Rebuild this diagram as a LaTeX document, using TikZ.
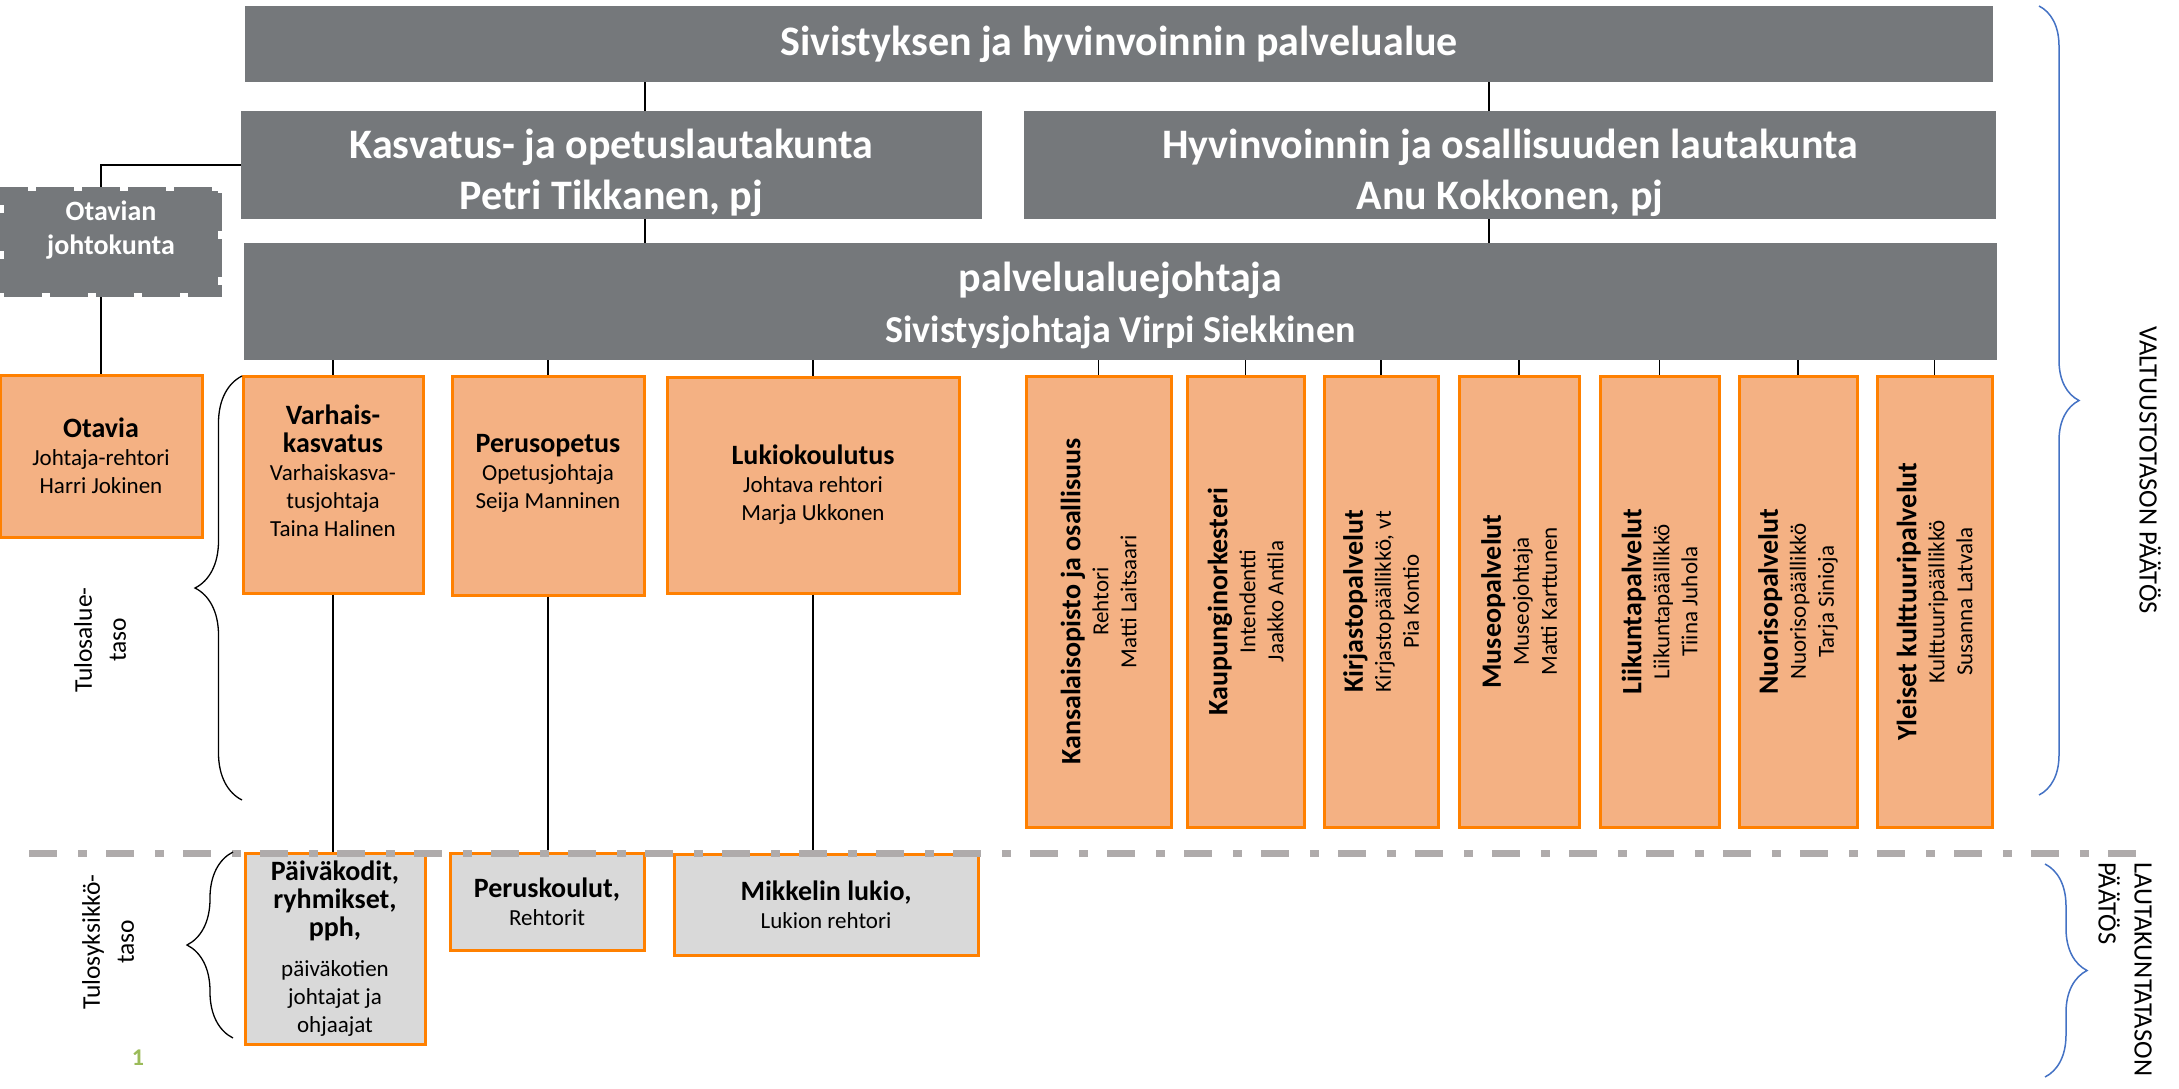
\documentclass[tikz,border=0pt]{standalone}
\usepackage{fontspec}
\setmainfont{Carlito}
\usetikzlibrary{positioning, decorations.pathreplacing}

\definecolor{boardgrey}{HTML}{75787B}
\definecolor{unitfill}{HTML}{F4B183}
\definecolor{unitline}{HTML}{FF8000}
\definecolor{schoolfill}{HTML}{D9D9D9}
\definecolor{levelgrey}{HTML}{AFABAB}
\definecolor{braceblue}{HTML}{4472C4}
\definecolor{pagegreen}{HTML}{9BBB59}

\newcommand{\fs}[2]{\fontsize{#1}{#2}\selectfont}
\newcommand{\unithead}[1]{{\fs{28}{31}\bfseries #1}}

\begin{document}
\begin{tikzpicture}[
        x=1pt, y=-1pt,
        board/.style={rectangle, fill=boardgrey, text=white, inner sep=0pt, align=center, font=\fs{42}{51}\bfseries},
        boardtext/.style={text=white, inner sep=0pt, align=center, font=\fs{42}{51}\bfseries},
        unit/.style={rectangle, draw=unitline, line width=3pt, fill=unitfill, inner sep=0pt, align=center, font=\fs{23}{28}},
        school/.style={unit, fill=schoolfill},
        sideways/.style={rotate=90, inner sep=0pt, align=center, font=\fs{23}{28}},
        link/.style={draw=black, line width=1.2pt},
        lbrace/.style={decorate, decoration={brace, amplitude=47pt}, line width=1.3pt},
        rbrace/.style={decorate, decoration={brace, amplitude=40pt}, draw=braceblue, line width=1.5pt},
        leveltext/.style={rotate=90, inner sep=0pt, align=center, font=\fs{25.5}{34}}
    ]
        \useasboundingbox (0,0) rectangle (2179,1088);

        % Palvelualue and lautakunnat
        \node[board, minimum width=1748, minimum height=76] (alue) at (1119, 44) {Sivistyksen ja hyvinvoinnin palvelualue};
        \node[board, minimum width=741, minimum height=108] (kasv) at (611.5, 165) {};
        \node[boardtext] (kasvteksti) at ([yshift=-8pt]kasv.center) {Kasvatus- ja opetuslautakunta\\Petri Tikkanen, pj};
        \node[board, minimum width=972, minimum height=108] (hyvi) at (1510, 165) {};
        \node[boardtext] (hyviteksti) at ([yshift=-8pt]hyvi.center) {Hyvinvoinnin ja osallisuuden lautakunta\\Anu Kokkonen, pj};
        \node[board, minimum width=1753, minimum height=117] (johtaja) at (1120.5, 301.5) {};
        \node[boardtext] (johtajateksti) at ([yshift=-4pt]johtaja.center) {palvelualuejohtaja\\{\fs{38}{51}\bfseries Sivistysjohtaja Virpi Siekkinen}};

        % Otavian johtokunta
        \node[board, draw=boardgrey, line width=8pt, dash pattern=on 38pt off 8pt, minimum width=214, minimum height=102] (otjk) at (111, 242) {};
        \node[text=white, align=center, font=\fs{28}{34}\bfseries] (otjkteksti) at ([yshift=12pt]otjk.center) {Otavian\\johtokunta};

        % Tulosalueet
        \node[unit, minimum width=202, minimum height=162] (otavia) at (101, 456) {\unithead{Otavia}\\Johtaja-rehtori\\Harri Jokinen};
        \node[unit, minimum width=180, minimum height=217] (varh) at (333, 484.5) {\unithead{Varhais-}\\\unithead{kasvatus}\\Varhaiskasva-\\tusjohtaja\\Taina Halinen\\\mbox{}};
        \node[unit, minimum width=192, minimum height=219] (peru) at (548, 485.5) {\unithead{Perusopetus}\\Opetusjohtaja\\Seija Manninen\\\mbox{}};
        \node[unit, minimum width=292, minimum height=216] (luki) at (813, 485) {\unithead{Lukiokoulutus}\\Johtava rehtori\\Marja Ukkonen};

        % Hyvinvoinnin tulosalueet
        \node[unit, minimum width=145, minimum height=451] (kans) at (1098.5, 601.5) {};
        \node[sideways] (kansteksti) at (kans) {\unithead{Kansalaisopisto ja osallisuus}\\Rehtori\\Matti Laitsaari};
        \node[unit, minimum width=117, minimum height=451] (kaup) at (1245.5, 601.5) {};
        \node[sideways] (kaupteksti) at (kaup) {\unithead{Kaupunginorkesteri}\\Intendentti\\Jaakko Antila};
        \node[unit, minimum width=114, minimum height=451] (kirj) at (1381, 601.5) {};
        \node[sideways] (kirjteksti) at (kirj) {\unithead{Kirjastopalvelut}\\Kirjastopäällikkö, vt\\Pia Kontio};
        \node[unit, minimum width=120, minimum height=451] (muse) at (1519, 601.5) {};
        \node[sideways] (museteksti) at (muse) {\unithead{Museopalvelut}\\Museojohtaja\\Matti Karttunen};
        \node[unit, minimum width=119, minimum height=451] (liik) at (1659.5, 601.5) {};
        \node[sideways] (liikteksti) at (liik) {\unithead{Liikuntapalvelut}\\Liikuntapäällikkö\\Tiina Juhola};
        \node[unit, minimum width=118, minimum height=451] (nuor) at (1798, 601.5) {};
        \node[sideways] (nuorteksti) at (nuor) {\unithead{Nuorisopalvelut}\\Nuorisopäällikkö\\Tarja Sinioja};
        \node[unit, minimum width=115, minimum height=451] (ylei) at (1934.5, 601.5) {};
        \node[sideways] (yleiteksti) at (ylei) {\unithead{Yleiset kulttuuripalvelut}\\Kulttuuripäällikkö\\Susanna Latvala};

        % Tulosyksiköt
        \node[school, minimum width=180, minimum height=191] (paiv) at (335, 948.5) {\unithead{Päiväkodit,}\\\unithead{ryhmikset,}\\\unithead{pph,}\\[12pt]päiväkotien\\johtajat ja\\ohjaajat};
        \node[school, minimum width=194, minimum height=97] (perk) at (547, 901.5) {\unithead{Peruskoulut,}\\Rehtorit};
        \node[school, minimum width=304, minimum height=101] (mikk) at (826, 904.5) {\unithead{Mikkelin lukio,}\\Lukion rehtori};

        % Lines between the top boxes
        \coordinate (kasvlinja) at (645, 0);
        \coordinate (hyvilinja) at (1489, 0);
        \draw[link] (alue.south -| kasvlinja) -- (kasv.north -| kasvlinja);
        \draw[link] (alue.south -| hyvilinja) -- (hyvi.north -| hyvilinja);
        \draw[link] (kasv.south -| kasvlinja) -- (johtaja.north -| kasvlinja);
        \draw[link] (hyvi.south -| hyvilinja) -- (johtaja.north -| hyvilinja);
        \draw[link] (kasv.west) -| (otjk.north -| otavia.north);
        \draw[link] (otjk.south -| otavia.north) -- (otavia.north);

        % Lines from palvelualuejohtaja
        \draw[link] (johtaja.south -| varh.north) -- (varh.north);
        \draw[link] (johtaja.south -| peru.north) -- (peru.north);
        \draw[link] (johtaja.south -| luki.north) -- (luki.north);
        \draw[link] (johtaja.south -| kans.north) -- (kans.north);
        \draw[link] (johtaja.south -| kaup.north) -- (kaup.north);
        \draw[link] (johtaja.south -| kirj.north) -- (kirj.north);
        \draw[link] (johtaja.south -| muse.north) -- (muse.north);
        \draw[link] (johtaja.south -| liik.north) -- (liik.north);
        \draw[link] (johtaja.south -| nuor.north) -- (nuor.north);
        \draw[link] (johtaja.south -| ylei.north) -- (ylei.north);

        % Lines down to the tulosyksiköt
        \draw[link] (varh.south) -- (varh.south |- paiv.north);
        \draw[link] (peru.south) -- (peru.south |- perk.north);
        \draw[link] (luki.south) -- (luki.south |- mikk.north);

        % Level separator
        \coordinate (tasoL) at (29, 853);
        \coordinate (tasoR) at (2142, 853);
        \draw[levelgrey, line width=7pt, dash pattern=on 28pt off 21pt on 9pt off 19pt] (tasoL) -- (tasoR);

        % Braces and level labels
        \draw[lbrace] (242, 800) -- (242, 376);
        \draw[lbrace, decoration={amplitude=46pt}] (233, 1038) -- (233, 852);
        \node[leveltext] (alueteksti) at (100, 640) {Tulosalue-\\taso};
        \node[leveltext] (yksikkoteksti) at (108, 942) {Tulosyksikkö-\\taso};
        \node[text=pagegreen, font=\fs{24}{28}\bfseries] (sivunro) at (138, 1058) {1};

        \draw[rbrace] (2039, 6) -- (2039, 795);
        \draw[rbrace, decoration={amplitude=42pt}] (2045, 864) -- (2045, 1077);
        \node[rotate=-90, inner sep=0pt, font=\fs{26.5}{32}] (valtuusto) at (2150, 470) {VALTUUSTOTASON PÄÄTÖS};
        \node[rotate=-90, anchor=west, inner sep=0pt, align=left, font=\fs{26.5}{36}] (lautakunta) at (2125, 862) {LAUTAKUNTATASON\\PÄÄTÖS};
    \end{tikzpicture}
\end{document}
